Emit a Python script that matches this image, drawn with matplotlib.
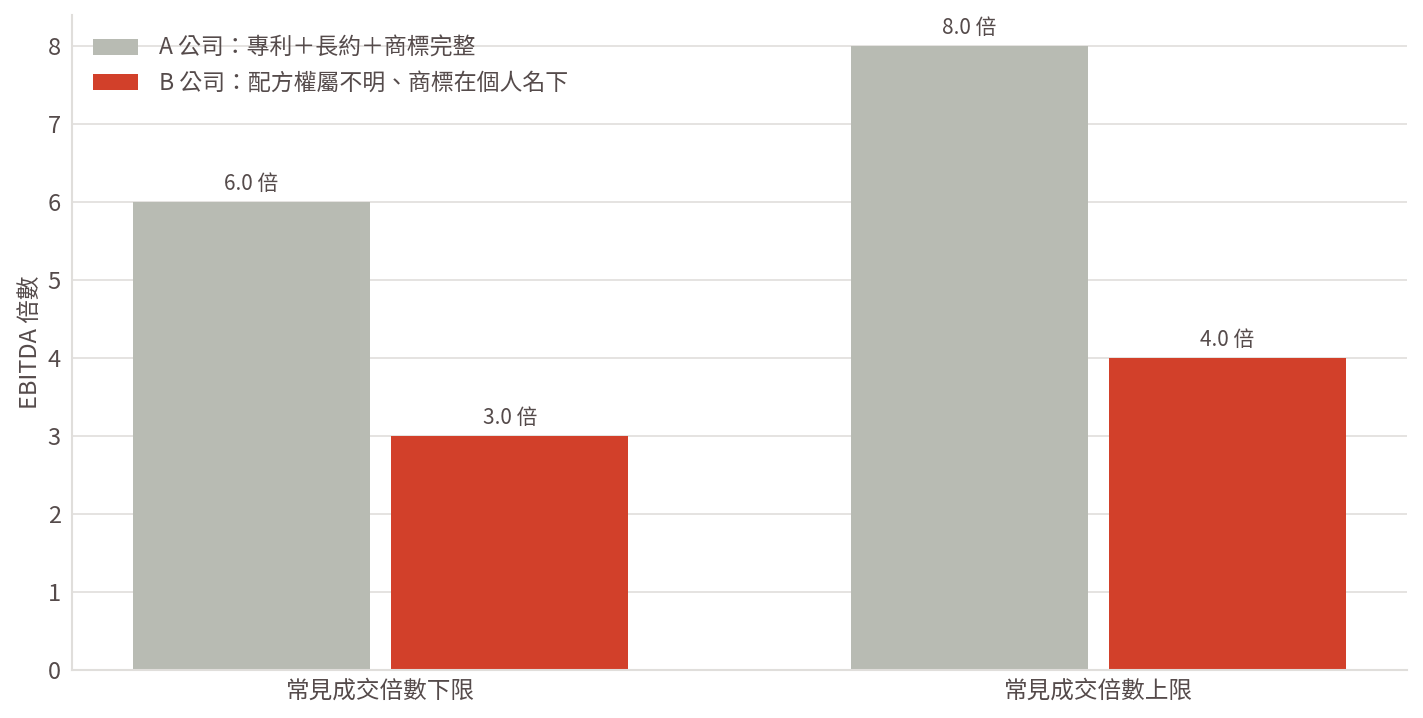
import matplotlib
matplotlib.use('Agg')
import matplotlib.pyplot as plt
import numpy as np

plt.rcParams['font.family'] = ['Noto Sans CJK TC', 'DejaVu Sans']

categories = ['常見成交倍數下限', '常見成交倍數上限']
series_names = ['A 公司：專利＋長約＋商標完整', 'B 公司：配方權屬不明、商標在個人名下']
a_values = [6.0, 8.0]
b_values = [3.0, 4.0]
colors = ['#b8bbb3', '#d2402a']
TEXT = '#554b4b'
GRID = '#e0dedb'

fig = plt.figure(figsize=(14.23, 7.18), dpi=100)
ax = fig.add_axes([0.0506, 0.0669, 0.9382, 0.912])

x = np.arange(len(categories))
w = 0.33
off = 0.18
for vals, name, c, dx in [(a_values, series_names[0], colors[0], -off),
                          (b_values, series_names[1], colors[1], off)]:
    bars = ax.bar(x + dx, vals, w, color=c, label=name, zorder=2)
    for b, v in zip(bars, vals):
        ax.annotate(f'{v:.1f} 倍', (b.get_x() + b.get_width() / 2, v),
                    xytext=(0, 5), textcoords='offset points',
                    ha='center', va='bottom', fontsize=15, color=TEXT)

ax.set_xlim(-0.43, 1.43)
ax.set_ylim(0, 8.4)
ax.set_xticks(x)
ax.set_xticklabels(categories, fontsize=17, color=TEXT)
ax.set_yticks(range(0, 9))
ax.tick_params(axis='y', labelsize=17, labelcolor=TEXT, length=0, pad=8)
ax.tick_params(axis='x', length=0, pad=7)
ax.set_ylabel('EBITDA 倍數', fontsize=17, color=TEXT, labelpad=4)

ax.grid(axis='y', color=GRID, lw=1.2, zorder=0)
ax.set_axisbelow(True)
for s in ['top', 'right']:
    ax.spines[s].set_visible(False)
for s in ['left', 'bottom']:
    ax.spines[s].set_color(GRID)
    ax.spines[s].set_linewidth(1.5)

leg = ax.legend(loc='upper left', frameon=False, fontsize=16.5,
                handlelength=2.0, handleheight=0.7, labelspacing=0.53,
                handletextpad=0.9, bbox_to_anchor=(0.0, 0.998))
for t in leg.get_texts():
    t.set_color(TEXT)

fig.savefig('out.png', dpi=100)
